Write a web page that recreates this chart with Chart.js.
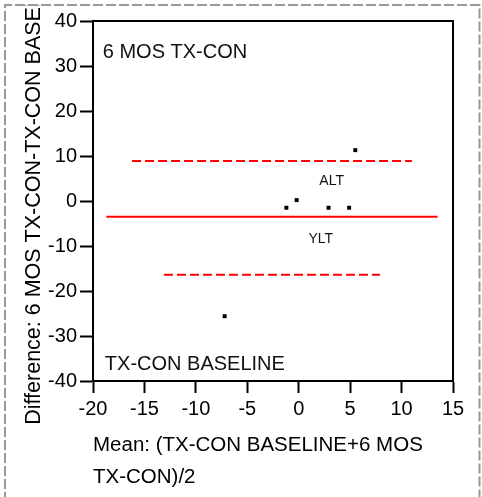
<!DOCTYPE html>
<html>
<head>
<meta charset="utf-8">
<script src="https://cdn.jsdelivr.net/npm/chart.js@4"></script>
<style>
  body { margin: 0; background: #fff; }
  canvas { display: block; }
</style>
</head>
<body>
<canvas id="myChart" width="482" height="497"></canvas>
<script>
'use strict';

// mean of the two readings vs their difference
let meanValues = [-7.2, -1.2, -0.2, 2.9, 4.9, 5.5];
let diffValues = [-25.6, -1.5, 0.2, -1.5, -1.5, 11.3];

// bias line and the two limits, each with its x extent
let biasValue = -3.5;
let biasRange = [-18.7, 13.5];
let upperValue = 8.9;
let upperRange = [-16.2, 11.0];
let lowerValue = -16.4;
let lowerRange = [-13.1, 7.9];

let xTicks = [-20, -15, -10, -5, 0, 5, 10, 15];
let yTicks = [-40, -30, -20, -10, 0, 10, 20, 30, 40];

// text notes inside the plot, in data units
let noteText = ['6 MOS TX-CON', 'TX-CON BASELINE', 'ALT', 'YLT'];
let noteX = [-19.05, -18.85, 3.2, 2.15];
let noteY = [33.1, -36.3, 4.5, -8.4];

const FONT = "'Liberation Sans', Arial, sans-serif";

//Helper Functions
function hLine(range, value) {
  return [{ x: range[0], y: value }, { x: range[1], y: value }];
}

function dashedBorder() {
  return { display: true, color: '#000', width: 2, dash: [9, 4] };
}

let points = [];
for (let i = 0; i < meanValues.length; i++) {
  points.push({ x: meanValues[i], y: diffValues[i] });
}

let chartDecor = {
  id: 'chartDecor',
  beforeDraw(chart) {
    let ctx = chart.ctx;
    ctx.save();
    ctx.fillStyle = '#fff';
    ctx.fillRect(0, 0, chart.width, chart.height);
    ctx.restore();
  },
  afterDatasetsDraw(chart) {
    let ctx = chart.ctx;
    let xs = chart.scales.x;
    let ys = chart.scales.y;
    ctx.save();
    ctx.fillStyle = '#111';
    ctx.textBaseline = 'middle';
    for (let i = 0; i < noteText.length; i++) {
      let big = i < 2;
      ctx.font = (big ? 20 : 14) + 'px ' + FONT;
      ctx.textAlign = big ? 'left' : 'center';
      ctx.fillText(noteText[i], xs.getPixelForValue(noteX[i]), ys.getPixelForValue(noteY[i]));
    }
    ctx.restore();
  },
  afterDraw(chart) {
    // the outer frame clips the long y title at the top
    let ctx = chart.ctx;
    ctx.save();
    ctx.fillStyle = '#fff';
    ctx.fillRect(0, 0, chart.width, 5);
    ctx.strokeStyle = '#999';
    ctx.lineWidth = 2;
    ctx.setLineDash([10, 3]);
    ctx.beginPath();
    ctx.moveTo(5, chart.height + 5);
    ctx.lineTo(5, 5);
    ctx.lineTo(479.5, 5);
    ctx.lineTo(479.5, chart.height + 5);
    ctx.stroke();
    ctx.restore();
  }
};

const data = {
  datasets: [{
    label: 'points',
    data: points,
    pointStyle: 'rect',
    pointRadius: 2.8,
    backgroundColor: '#000',
    borderWidth: 0,
    showLine: false,
    order: 0
  }, {
    label: 'bias',
    data: hLine(biasRange, biasValue),
    showLine: true,
    borderColor: '#ff0000',
    borderWidth: 2,
    pointRadius: 0,
    order: 1
  }, {
    label: 'upper',
    data: hLine(upperRange, upperValue),
    showLine: true,
    borderColor: '#ff0000',
    borderWidth: 2,
    borderDash: [9, 4],
    pointRadius: 0,
    order: 1
  }, {
    label: 'lower',
    data: hLine(lowerRange, lowerValue),
    showLine: true,
    borderColor: '#ff0000',
    borderWidth: 2,
    borderDash: [9, 4],
    pointRadius: 0,
    order: 1
  }]
};

const config = {
  type: 'scatter',
  data: data,
  plugins: [chartDecor],
  options: {
    responsive: false,
    animation: false,
    layout: { padding: { top: 9, right: 17, left: 0, bottom: 0 } },
    plugins: {
      legend: { display: false },
      tooltip: { enabled: false }
    },
    scales: {
      x: {
        type: 'linear',
        position: 'bottom',
        min: xTicks[0],
        max: xTicks[xTicks.length - 1],
        afterBuildTicks: (s) => { s.ticks = xTicks.map(v => ({ value: v })); },
        afterFit: (s) => { s.height = 116; },
        grid: { display: true, drawOnChartArea: false, drawTicks: true, tickLength: 12, tickWidth: 2, tickColor: '#000' },
        border: dashedBorder(),
        ticks: { color: '#000', font: { family: FONT, size: 20 }, padding: 4, maxRotation: 0, autoSkip: false },
        title: {
          display: true,
          text: ['Mean: (TX-CON BASELINE+6 MOS', 'TX-CON)/2'],
          align: 'start',
          color: '#000',
          font: { family: FONT, size: 20.5, lineHeight: 1.56 },
          padding: { top: 0, bottom: 4 }
        }
      },
      y: {
        type: 'linear',
        position: 'left',
        min: yTicks[0],
        max: yTicks[yTicks.length - 1],
        afterBuildTicks: (s) => { s.ticks = yTicks.map(v => ({ value: v })); },
        afterFit: (s) => { s.width = 93; },
        grid: { display: true, drawOnChartArea: false, drawTicks: true, tickLength: 13, tickWidth: 2, tickColor: '#000' },
        border: dashedBorder(),
        ticks: { color: '#000', font: { family: FONT, size: 20 }, padding: 3, autoSkip: false },
        title: {
          display: true,
          text: '   Difference: 6 MOS TX-CON-TX-CON BASELINE',
          color: '#000',
          font: { family: FONT, size: 21.5 },
          padding: { top: 21, bottom: 0 }
        }
      },
      x2: {
        type: 'linear',
        position: 'top',
        min: xTicks[0],
        max: xTicks[xTicks.length - 1],
        afterFit: (s) => { s.height = 12; },
        grid: { display: false },
        border: dashedBorder(),
        ticks: { display: false }
      },
      y2: {
        type: 'linear',
        position: 'right',
        min: yTicks[0],
        max: yTicks[yTicks.length - 1],
        afterFit: (s) => { s.width = 12; },
        grid: { display: false },
        border: dashedBorder(),
        ticks: { display: false }
      }
    }
  }
};

const myChart = new Chart(document.getElementById('myChart'), config);
</script>
</body>
</html>
